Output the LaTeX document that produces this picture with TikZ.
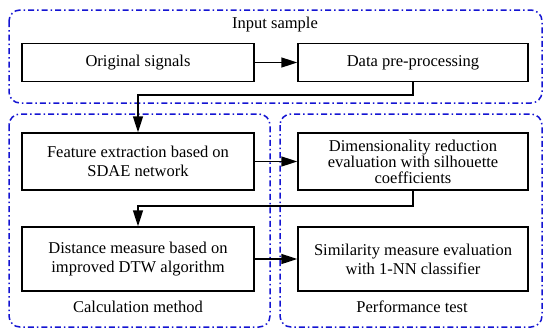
\documentclass[tikz,border=0pt]{standalone}
\usepackage{fontspec}
\setmainfont{Liberation Serif}
\usetikzlibrary{arrows.meta}
\definecolor{groupblue}{RGB}{20,20,210}
\tikzset{
	stage/.style = {draw, line width = 1.5pt, align = center, inner sep = 2pt,
		font = \fontsize{16.5}{19}\selectfont},
	group/.style = {draw = groupblue, line width = 1.5pt, rounded corners = 11pt,
		dash pattern = on 6pt off 3pt on 1.5pt off 3pt},
	flow/.style = {line width = 1.6pt, -{Triangle[length = 16pt, width = 10pt]}},
	caption/.style = {font = \fontsize{16.5}{19}\selectfont}
}
\begin{document}
\begin{tikzpicture} [x = 1pt, y = -1pt]
	\useasboundingbox (0,0) rectangle (550,335);
	% groups
	\draw [group] (9,10) rectangle (542,103);
	\draw [group] (9,114) rectangle (270,327);
	\draw [group] (280,114) rectangle (542,327);
	\node [caption] (input) at (275,25) {Input sample};
	\node [caption] (calc) at (138,307) {Calculation method};
	\node [caption] (perf) at (412,307) {Performance test};
	% stages
	\node [stage, minimum width = 232pt, minimum height = 38pt] (orig) at (138,62.5) {Original signals};
	\node [stage, minimum width = 230pt, minimum height = 38pt] (prep) at (413,62.5) {Data pre-processing};
	\node [stage, minimum width = 232pt, minimum height = 57pt] (feat) at (138,161.5) {Feature extraction based on\\SDAE network};
	\node [stage, minimum width = 230pt, minimum height = 57pt, font = \fontsize{16.5}{16}\selectfont] (dim) at (413,161.5) {Dimensionality reduction\\evaluation with silhouette\\coefficients};
	\node [stage, minimum width = 232pt, minimum height = 64pt] (dist) at (138,259) {Distance measure based on\\improved DTW algorithm};
	\node [stage, minimum width = 230pt, minimum height = 64pt] (sim) at (413,259) {Similarity measure evaluation\\with 1-NN classifier};
	% flow
	\draw [flow] (orig) -- (prep);
	\draw [flow] (prep.south) -- ++(0,13) -| (feat.north);
	\draw [flow] (feat) -- (dim);
	\draw [flow] (dim.south) -- ++(0,15) -| (dist.north);
	\draw [flow] (dist) -- (sim);
\end{tikzpicture}
\end{document}
